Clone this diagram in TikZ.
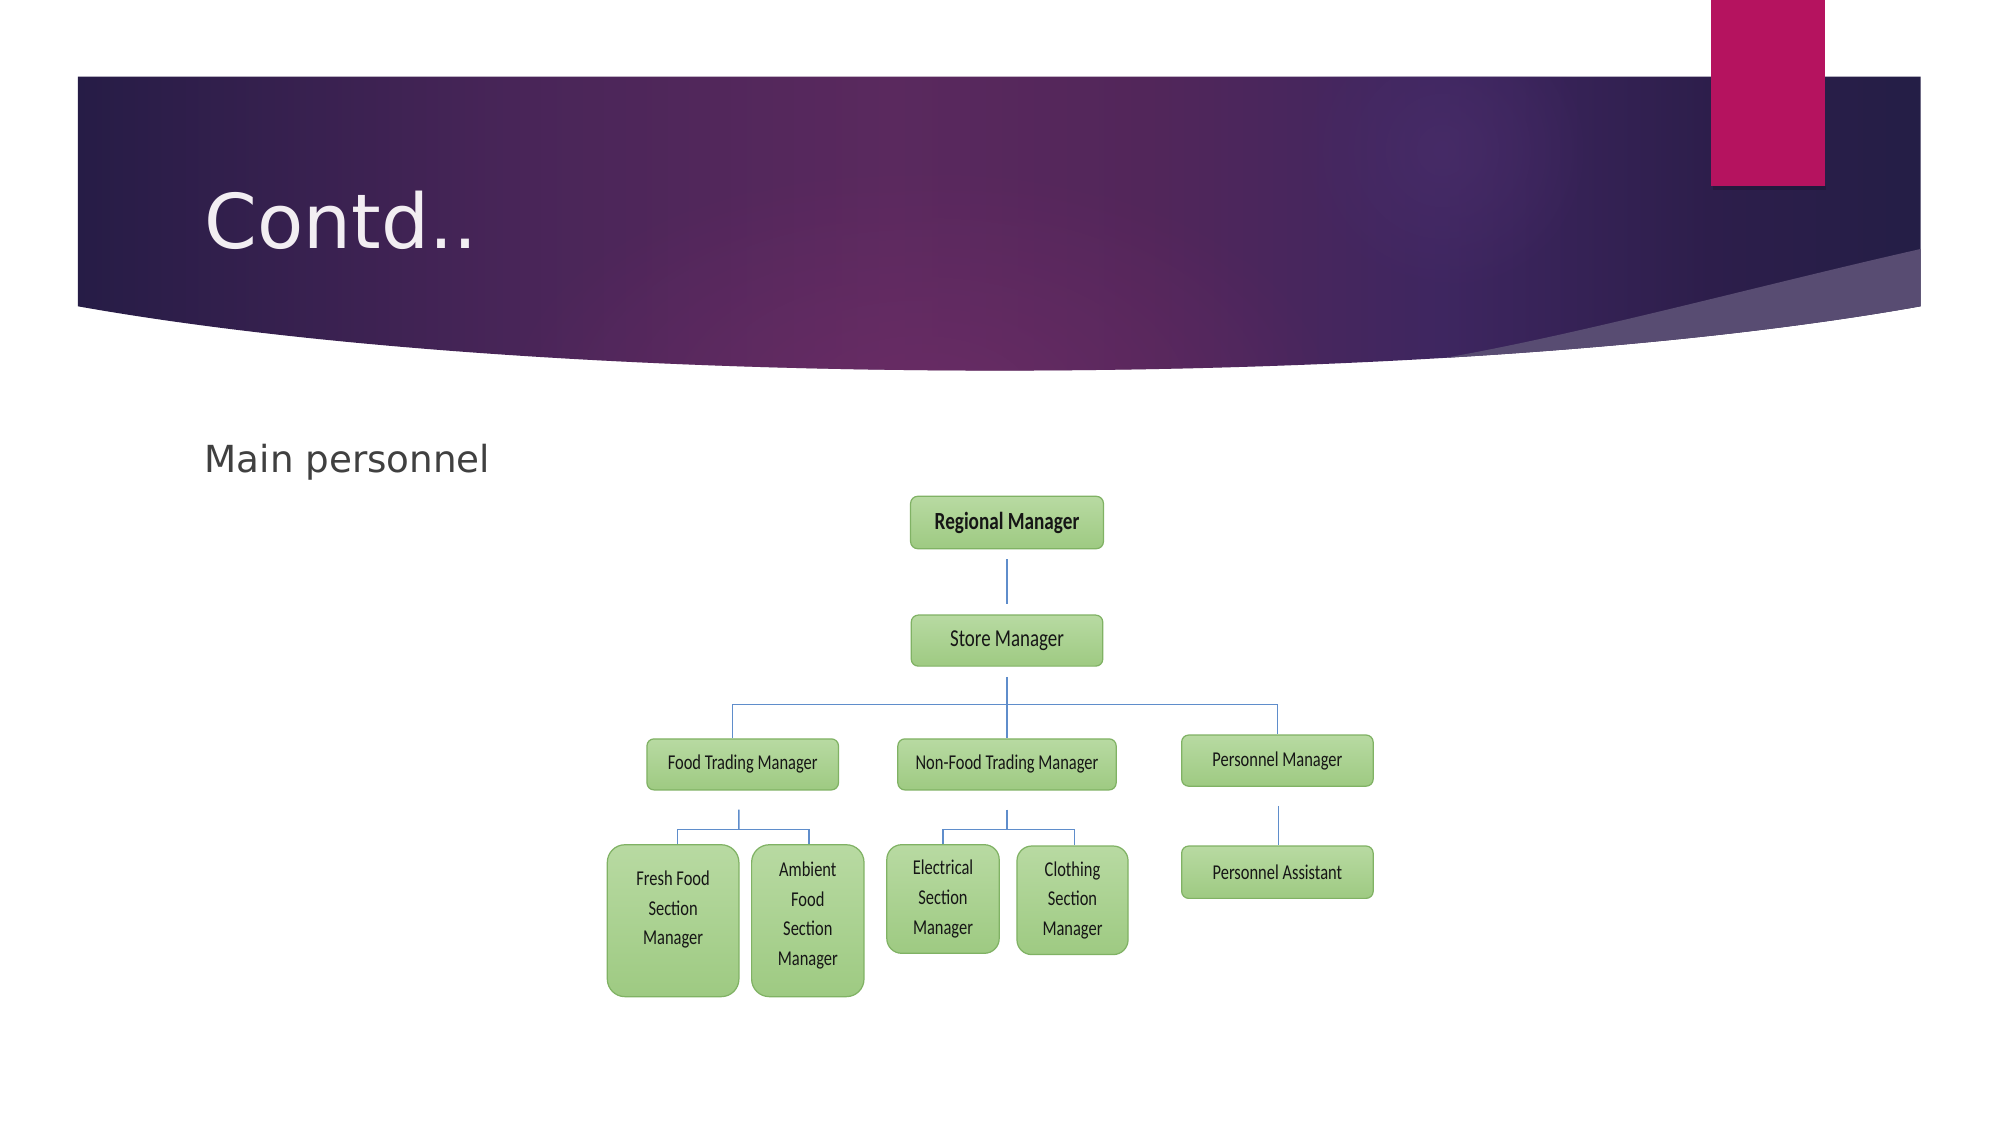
\documentclass[tikz,border=0pt]{standalone}
\usepackage{fontspec}
\setmainfont{DejaVu Sans}
\newfontfamily\boxfont[FakeStretch=0.78]{Carlito}
\usetikzlibrary{fadings}
\definecolor{bA}{RGB}{38,28,70}
\definecolor{bB}{RGB}{72,37,88}
\definecolor{bC}{RGB}{90,41,94}
\definecolor{bD}{RGB}{82,38,90}
\definecolor{bE}{RGB}{62,38,96}
\definecolor{bF}{RGB}{45,30,75}
\definecolor{bG}{RGB}{36,30,70}
\definecolor{glowc}{RGB}{72,44,104}
\definecolor{magglow}{RGB}{112,46,104}
\definecolor{sliverc}{RGB}{88,76,114}
\definecolor{pinkc}{RGB}{181,19,95}
\definecolor{titlec}{RGB}{242,238,242}
\definecolor{bodyc}{RGB}{64,64,64}
\definecolor{boxtop}{RGB}{184,218,162}
\definecolor{boxbot}{RGB}{158,202,130}
\definecolor{boxborder}{RGB}{128,178,100}
\definecolor{boxtext}{RGB}{22,22,22}
\definecolor{linec}{RGB}{95,141,203}
\pgfdeclarehorizontalshading{bannershade}{100bp}{color(0bp)=(bA); color(25bp)=(bA); color(36.7bp)=(bB); color(47bp)=(bC); color(54bp)=(bD); color(62bp)=(bE); color(69.3bp)=(bF); color(75bp)=(bG); color(100bp)=(bG)}
\tikzfading[name=softglow, inner color=transparent!20, outer color=transparent!100]
\tikzset{
  box/.style={draw=boxborder, line width=0.35pt, top color=boxtop, bottom color=boxbot,
    rounded corners=2pt, inner sep=0pt, text=boxtext, align=center,
    font=\boxfont\fontsize{6}{8.4}\selectfont},
  tallbox/.style={box, rounded corners=5pt},
  midbox/.style={box, rounded corners=4.2pt},
  boxlabel/.style={inner sep=0pt, text=boxtext, align=center, font=\boxfont\fontsize{6}{8.4}\selectfont},
  conn/.style={draw=linec, line width=0.4pt},
}
\begin{document}
\begin{tikzpicture}[x=0.01cm, y=-0.01cm]
\useasboundingbox (0,0) rectangle (2001,1125);
\fill[white] (0,0) rectangle (2001,1125);
% banner
\def\bannerpath{(77.8,76.6) -- (1920.6,76.6) -- (1920.6,306.3) .. controls (1440,392) and (560,392) .. (77.8,306.3) -- cycle}
\shade[shading=bannershade] \bannerpath;
\begin{scope}
  \clip \bannerpath;
  \fill[magglow, path fading=softglow, fill opacity=0.85] (920,400) ellipse (420 and 240);
  \fill[glowc, path fading=softglow] (1442,150) circle (150);
  \fill[sliverc] (1925,248) .. controls (1760,285) and (1560,340) .. (1420,362) -- (1380,420) -- (1925,420) -- cycle;
\end{scope}
% pink tab
\fill[black, opacity=0.15] (1713,186) rectangle (1826,190);
\fill[pinkc] (1711.3,0) rectangle (1824.8,186.3);
% texts
\node[anchor=base west, inner sep=0pt, text=titlec, font=\fontsize{21.5}{25}\selectfont] (title) at (204,249) {Contd..};
\node[anchor=base west, inner sep=0pt, text=bodyc, font=\fontsize{10.6}{13}\selectfont] (sub) at (204,472.3) {Main personnel};
% org chart boxes
\node[box, minimum width=1.927cm, minimum height=0.523cm, font=\boxfont\bfseries\fontsize{7}{8}\selectfont] (RM) at (1007,522.5) {Regional Manager};
\node[box, minimum width=1.914cm, minimum height=0.51cm, font=\boxfont\fontsize{6.9}{8}\selectfont] (SM) at (1007,640.6) {Store Manager};
\node[box, minimum width=1.914cm, minimum height=0.51cm] (FTM) at (742.7,764.4) {Food Trading Manager};
\node[box, minimum width=2.182cm, minimum height=0.51cm] (NFTM) at (1007,764.4) {Non-Food Trading Manager};
\node[box, minimum width=1.914cm, minimum height=0.511cm] (PM) at (1277.4,760.6) {Personnel Manager};
\node[tallbox, minimum width=1.315cm, minimum height=1.518cm] (FFSM) at (673.1,920.7) {};
\node[tallbox, minimum width=1.123cm, minimum height=1.518cm] (AFSM) at (807.8,920.7) {};
\node[midbox, minimum width=1.123cm, minimum height=1.085cm] (ESM) at (943,899) {};
\node[midbox, minimum width=1.11cm, minimum height=1.085cm] (CSM) at (1072.5,900.3) {};
\node[box, minimum width=1.914cm, minimum height=0.523cm] (PA) at (1277.4,872.2) {Personnel Assistant};
\node[boxlabel] (FFSMt) at ([yshift=0.108cm]FFSM.center) {Fresh Food\\Section\\Manager};
\node[boxlabel] (AFSMt) at ([yshift=0.05cm]AFSM.center) {Ambient\\Food\\Section\\Manager};
\node[boxlabel] (ESMt) at (ESM.center) {Electrical\\Section\\Manager};
\node[boxlabel] (CSMt) at (CSM.center) {Clothing\\Section\\Manager};
% connectors
\coordinate (bus) at (1007,704.4);
\coordinate (fj) at (738.9,829.5);
\coordinate (nj) at (1007,829.5);
\draw[conn, shorten <=2.9pt, shorten >=2.9pt] (RM) -- (SM);
\draw[conn, shorten <=2.9pt] (SM) -- (NFTM);
\draw[conn] ([xshift=-0.102cm]FTM.north) |- (bus) -| (PM.north);
\draw[conn, shorten <=5.4pt] ([xshift=-0.038cm]FTM.south) -- (fj);
\draw[conn] ([xshift=0.045cm]FFSM.north) |- (fj) -| ([xshift=0.013cm]AFSM.north);
\draw[conn, shorten <=5.4pt] (NFTM.south) -- (nj);
\draw[conn] (ESM.north) |- (nj) -| ([xshift=0.02cm]CSM.north);
\draw[conn, shorten <=5.4pt] ([xshift=0.013cm]PM.south) -- ([xshift=0.013cm]PA.north);
\end{tikzpicture}
\end{document}
